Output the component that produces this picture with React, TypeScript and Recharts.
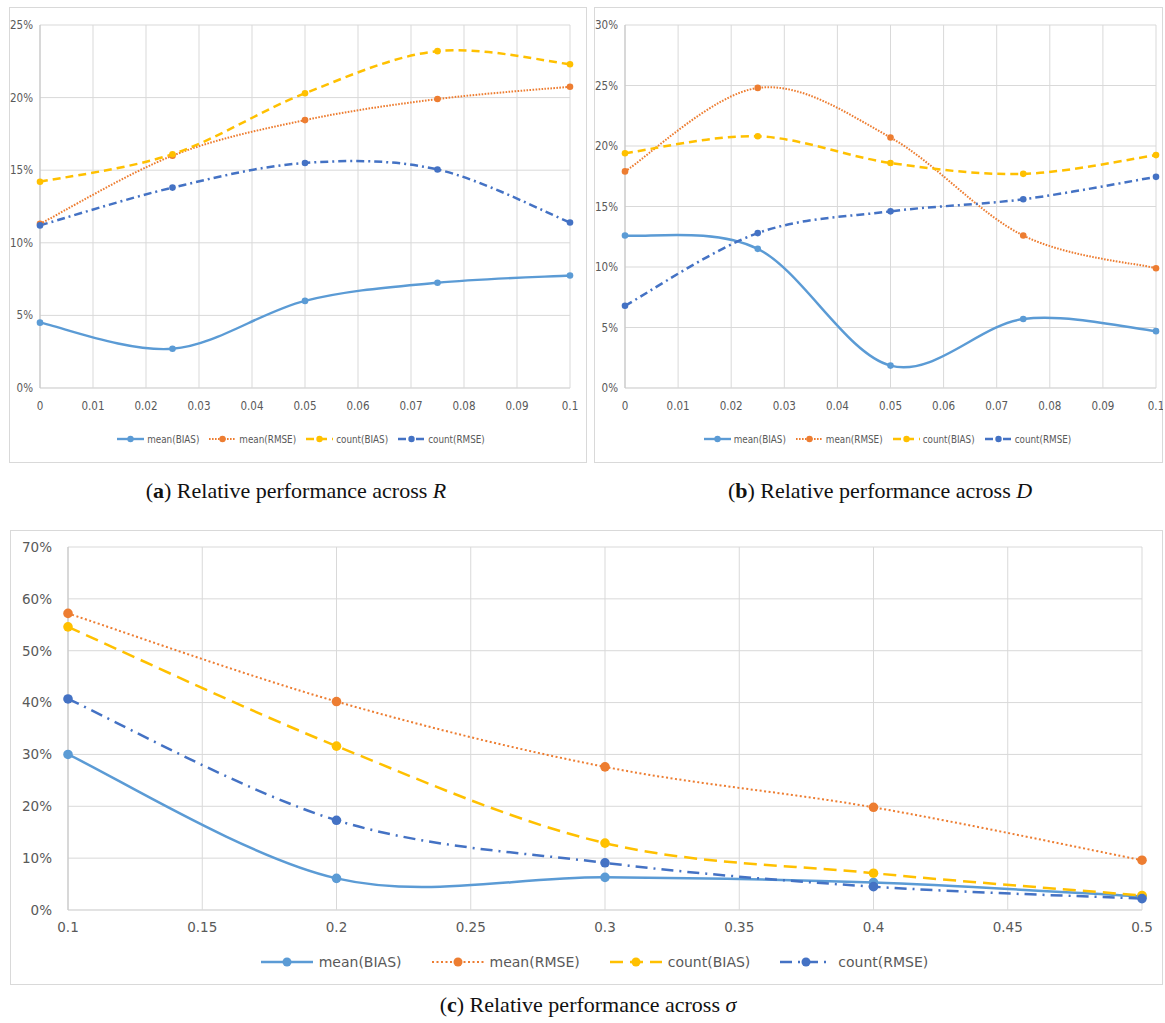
import { LineChart, Line, XAxis, YAxis, CartesianGrid } from 'recharts'

// (a) across R
const rX = [0, 0.025, 0.05, 0.075, 0.1]
const rMeanBias = [4.5, 2.7, 6.0, 7.25, 7.75]
const rMeanRmse = [11.3, 16.0, 18.45, 19.9, 20.75]
const rCountBias = [14.2, 16.1, 20.3, 23.2, 22.3]
const rCountRmse = [11.2, 13.8, 15.5, 15.05, 11.4]

// (b) across D
const dX = [0, 0.025, 0.05, 0.075, 0.1]
const dMeanBias = [12.6, 11.5, 1.85, 5.7, 4.7]
const dMeanRmse = [17.9, 24.8, 20.7, 12.6, 9.9]
const dCountBias = [19.4, 20.8, 18.6, 17.7, 19.25]
const dCountRmse = [6.8, 12.8, 14.6, 15.6, 17.45]

// (c) across sigma
const sX = [0.1, 0.2, 0.3, 0.4, 0.5]
const sMeanBias = [30.0, 6.1, 6.3, 5.3, 2.6]
const sMeanRmse = [57.2, 40.2, 27.6, 19.8, 9.6]
const sCountBias = [54.6, 31.6, 12.9, 7.1, 2.8]
const sCountRmse = [40.7, 17.3, 9.1, 4.5, 2.2]

const smallXTicks = [0, 0.01, 0.02, 0.03, 0.04, 0.05, 0.06, 0.07, 0.08, 0.09, 0.1]
const rYTicks = [0, 5, 10, 15, 20, 25]
const dYTicks = [0, 5, 10, 15, 20, 25, 30]
const sXTicks = [0.1, 0.15, 0.2, 0.25, 0.3, 0.35, 0.4, 0.45, 0.5]
const sYTicks = [0, 10, 20, 30, 40, 50, 60, 70]

const seriesNames = ['mean(BIAS)', 'mean(RMSE)', 'count(BIAS)', 'count(RMSE)']

const STYLES = [
  { key: 'meanBias', color: '#5B9BD5', dash: undefined, dashBig: undefined, w: 2.4, wBig: 2.5 },
  { key: 'meanRmse', color: '#ED7D31', dash: '1.6 1.4', dashBig: '2 2.5', w: 2, wBig: 2 },
  { key: 'countBias', color: '#FFC000', dash: '8 5', dashBig: '13 7', w: 2.5, wBig: 2.5 },
  { key: 'countRmse', color: '#4472C4', dash: '8 4 2 4', dashBig: '12 6 2 6', w: 2.5, wBig: 2.5 },
]

const NARROW = "'Liberation Sans Narrow', 'DejaVu Sans Condensed', 'Liberation Sans', sans-serif"
const WIDE = "'DejaVu Sans', 'Liberation Sans', sans-serif"
const SERIF = "'Liberation Serif', 'DejaVu Serif', serif"

// Excel-like smoothed line (Catmull-Rom through the points)
function excelSmooth(context: any) {
  let pts: number[][] = []
  return {
    areaStart() {},
    areaEnd() {},
    lineStart() {
      pts = []
    },
    lineEnd() {
      if (!pts.length) return
      context.moveTo(pts[0][0], pts[0][1])
      for (let i = 0; i < pts.length - 1; i++) {
        const p0 = pts[i - 1] || pts[i]
        const p1 = pts[i]
        const p2 = pts[i + 1]
        const p3 = pts[i + 2] || p2
        context.bezierCurveTo(
          p1[0] + (p2[0] - p0[0]) / 6,
          p1[1] + (p2[1] - p0[1]) / 6,
          p2[0] - (p3[0] - p1[0]) / 6,
          p2[1] - (p3[1] - p1[1]) / 6,
          p2[0],
          p2[1]
        )
      }
    },
    point(x: number, y: number) {
      pts.push([+x, +y])
    },
  }
}

function buildRows(xs: number[], s: number[][]) {
  return xs.map((x, i) => ({
    x,
    meanBias: s[0][i],
    meanRmse: s[1][i],
    countBias: s[2][i],
    countRmse: s[3][i],
  }))
}

function LegendRow({ big }: { big: boolean }) {
  const lw = big ? 52 : 27
  return (
    <div
      style={{
        display: 'flex',
        alignItems: 'center',
        justifyContent: 'center',
        gap: big ? 30 : 10,
        fontFamily: big ? WIDE : NARROW,
        fontSize: big ? 14 : 9.8,
        color: '#595959',
      }}
    >
      {STYLES.map((s, i) => (
        <div key={s.key} style={{ display: 'flex', alignItems: 'center', gap: big ? 6 : 3 }}>
          <svg width={lw} height={12}>
            <line
              x1={0}
              x2={lw}
              y1={6}
              y2={6}
              stroke={s.color}
              strokeWidth={big ? s.wBig : s.w}
              strokeDasharray={big ? s.dashBig : s.dash}
            />
            <circle cx={lw / 2} cy={6} r={big ? 4.5 : 3.2} fill={s.color} />
          </svg>
          <span>{seriesNames[i]}</span>
        </div>
      ))}
    </div>
  )
}

interface PanelProps {
  left: number
  top: number
  width: number
  height: number
  rows: any[]
  xDomain: number[]
  xTicks: number[]
  yDomain: number[]
  yTicks: number[]
  margin: { top: number; right: number; bottom: number; left: number }
  yWidth: number
  big: boolean
  legendTop: number
  legendShift: number
}

function Panel(p: PanelProps) {
  const tick = {
    fontSize: p.big ? 13.5 : 11.5,
    fill: '#595959',
    fontFamily: p.big ? WIDE : NARROW,
  }
  return (
    <div style={{ position: 'absolute', left: p.left, top: p.top, width: p.width, height: p.height }}>
      <div
        style={{
          position: 'absolute',
          left: 0,
          top: 0,
          width: p.width,
          height: p.height,
          boxSizing: 'border-box',
          border: '1px solid #d9d9d9',
        }}
      />
      <div style={{ position: 'absolute', left: 0, top: 0 }}>
        <LineChart width={p.width} height={p.height} data={p.rows} margin={p.margin}>
          <CartesianGrid stroke="#d9d9d9" strokeWidth={1} />
          <XAxis
            dataKey="x"
            type="number"
            domain={p.xDomain}
            ticks={p.xTicks}
            interval={0}
            tickFormatter={(v: number) => String(v)}
            tick={tick}
            tickLine={false}
            axisLine={{ stroke: '#d9d9d9' }}
            tickMargin={p.big ? 6 : 8}
            height={20}
          />
          <YAxis
            type="number"
            domain={p.yDomain}
            ticks={p.yTicks}
            interval={0}
            tickFormatter={(v: number) => `${v}%`}
            tick={tick}
            tickLine={false}
            axisLine={{ stroke: '#c4c4c4' }}
            tickMargin={p.big ? 10 : 1}
            width={p.yWidth}
          />
          {STYLES.map((s, i) => (
            <Line
              key={s.key}
              dataKey={s.key}
              name={seriesNames[i]}
              type={excelSmooth as any}
              stroke={s.color}
              strokeWidth={p.big ? s.wBig : s.w}
              strokeDasharray={p.big ? s.dashBig : s.dash}
              dot={{ r: p.big ? 4.8 : 3.3, fill: s.color, strokeWidth: 0 }}
              activeDot={false}
              isAnimationActive={false}
            />
          ))}
        </LineChart>
      </div>
      <div style={{ position: 'absolute', left: p.legendShift, top: p.legendTop, width: p.width }}>
        <LegendRow big={p.big} />
      </div>
    </div>
  )
}

function Caption({ cx, cy, letter, sym }: { cx: number; cy: number; letter: string; sym: string }) {
  return (
    <div
      style={{
        position: 'absolute',
        left: cx - 250,
        top: cy - 14,
        width: 500,
        textAlign: 'center',
        fontFamily: SERIF,
        fontSize: 22,
        lineHeight: '28px',
        color: '#111',
      }}
    >
      (<b>{letter}</b>) Relative performance across <i>{sym}</i>
    </div>
  )
}

export default function App() {
  const rRows = buildRows(rX, [rMeanBias, rMeanRmse, rCountBias, rCountRmse])
  const dRows = buildRows(dX, [dMeanBias, dMeanRmse, dCountBias, dCountRmse])
  const sRows = buildRows(sX, [sMeanBias, sMeanRmse, sCountBias, sCountRmse])

  return (
    <div style={{ position: 'absolute', left: 0, top: 0, width: 1165, height: 1023, background: '#fff' }}>
      <Panel
        left={9}
        top={7}
        width={578}
        height={456}
        rows={rRows}
        xDomain={[0, 0.1]}
        xTicks={smallXTicks}
        yDomain={[0, 25]}
        yTicks={rYTicks}
        margin={{ top: 18, right: 17, bottom: 55, left: 0 }}
        yWidth={31}
        big={false}
        legendTop={426}
        legendShift={3}
      />
      <Panel
        left={594}
        top={7}
        width={569}
        height={456}
        rows={dRows}
        xDomain={[0, 0.1]}
        xTicks={smallXTicks}
        yDomain={[0, 30]}
        yTicks={dYTicks}
        margin={{ top: 18, right: 7, bottom: 55, left: 0 }}
        yWidth={31}
        big={false}
        legendTop={426}
        legendShift={9}
      />
      <Caption cx={296} cy={491} letter="a" sym="R" />
      <Caption cx={880} cy={491} letter="b" sym="D" />
      <Panel
        left={10}
        top={530}
        width={1153}
        height={455}
        rows={sRows}
        xDomain={[0.1, 0.5]}
        xTicks={sXTicks}
        yDomain={[0, 70]}
        yTicks={sYTicks}
        margin={{ top: 17, right: 21, bottom: 55, left: 0 }}
        yWidth={58}
        big={true}
        legendTop={424}
        legendShift={8}
      />
      <Caption cx={588} cy={1005} letter="c" sym="σ" />
    </div>
  )
}
